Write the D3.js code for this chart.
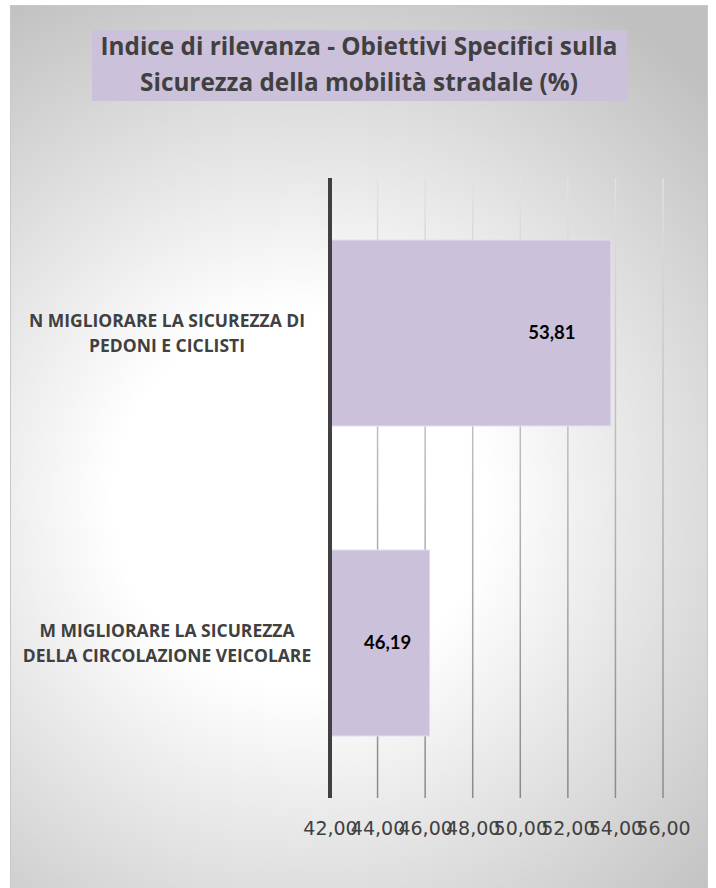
<!DOCTYPE html>
<html>
<head>
<meta charset="utf-8">
<script src="https://cdn.jsdelivr.net/npm/d3@7"></script>
<style>
  body { margin: 0; background: #fff; }
  svg { display: block; }
</style>
</head>
<body>
<div id="chart"></div>
<script>
// data
const titleLines = ['Indice di rilevanza - Obiettivi Specifici sulla', 'Sicurezza della mobilità stradale (%)'];
const categories = ['N', 'M'];
const categoryLabels = [
    ['N MIGLIORARE LA SICUREZZA DI', 'PEDONI E CICLISTI'],
    ['M MIGLIORARE LA SICUREZZA', 'DELLA CIRCOLAZIONE VEICOLARE']
];
const values = [53.81, 46.19];
const ticks = [42, 44, 46, 48, 50, 52, 54, 56];

const W = 716, H = 888;
const plot = {left: 330, right: 663, top: 178, bottom: 798};

const fmt = v => v.toFixed(2).replace('.', ',');

const svg = d3.select('#chart')
    .append('svg')
        .attr('width', W)
        .attr('height', H);

const defs = svg.append('defs');
const bg = defs.append('radialGradient')
    .attr('id', 'bg')
    .attr('gradientUnits', 'userSpaceOnUse')
    .attr('cx', 300).attr('cy', 500).attr('r', 580);
bg.append('stop').attr('offset', 0).attr('stop-color', '#ffffff');
bg.append('stop').attr('offset', 0.32).attr('stop-color', '#ffffff');
bg.append('stop').attr('offset', 1).attr('stop-color', '#c0c0c0');

const gridGrad = defs.append('linearGradient')
    .attr('id', 'grid')
    .attr('gradientUnits', 'userSpaceOnUse')
    .attr('x1', 0).attr('y1', plot.top).attr('x2', 0).attr('y2', plot.bottom);
gridGrad.append('stop').attr('offset', 0).attr('stop-color', '#e2e2e2');
gridGrad.append('stop').attr('offset', 1).attr('stop-color', '#8a8a8a');

// chart area
svg.append('rect')
    .attr('x', 10.5).attr('y', 5.5)
    .attr('width', 697).attr('height', 890)
    .attr('fill', 'url(#bg)')
    .attr('stroke', '#c8c8c8')
    .attr('stroke-width', 1);

// title
svg.append('rect')
    .attr('x', 92).attr('y', 30)
    .attr('width', 535).attr('height', 71)
    .attr('fill', '#ccc1da');

svg.selectAll('.title')
    .data(titleLines)
    .enter()
    .append('text')
        .attr('class', 'title')
        .attr('x', 359)
        .attr('y', (d, i) => 55 + i * 36)
        .attr('text-anchor', 'middle')
        .style('font-family', '"Open Sans", sans-serif')
        .style('font-weight', 'bold')
        .style('font-size', '24.3px')
        .style('fill', '#404040')
        .text(d => d);

const x = d3.scaleLinear()
    .domain([42, 56])
    .range([plot.left, plot.right]);

const y = d3.scaleBand()
    .domain(categories)
    .range([plot.top, plot.bottom])
    .paddingInner(0.4)
    .paddingOuter(0.2);

// gridlines
svg.selectAll('.grid')
    .data(ticks.slice(1))
    .enter()
    .append('rect')
        .attr('class', 'grid')
        .attr('x', d => x(d) - 0.75)
        .attr('y', plot.top)
        .attr('width', 1.5)
        .attr('height', plot.bottom - plot.top)
        .attr('fill', 'url(#grid)');

// bars
svg.selectAll('.bar')
    .data(values)
    .enter()
    .append('rect')
        .attr('class', 'bar')
        .attr('x', x(42))
        .attr('y', (d, i) => y(categories[i]))
        .attr('width', d => x(d) - x(42))
        .attr('height', y.bandwidth())
        .attr('fill', '#ccc1da')
        .attr('stroke', '#e4def0')
        .attr('stroke-width', 1);

// value labels
const labelShift = [59, 42];
svg.selectAll('.val')
    .data(values)
    .enter()
    .append('text')
        .attr('class', 'val')
        .attr('x', (d, i) => x(d) - labelShift[i])
        .attr('y', (d, i) => y(categories[i]) + y.bandwidth() / 2 + 6)
        .attr('text-anchor', 'middle')
        .style('font-family', 'Lato, sans-serif')
        .style('font-weight', 'bold')
        .style('font-size', '18.5px')
        .style('fill', '#000')
        .text(fmt);

// x axis (tick labels only)
const xAxis = svg.append('g')
    .attr('transform', `translate(0,${plot.bottom})`)
    .call(d3.axisBottom(x).tickValues(ticks).tickFormat(fmt).tickSize(0).tickPadding(24));
xAxis.select('.domain').remove();
xAxis.selectAll('text')
    .style('font-family', '"DejaVu Sans", sans-serif')
    .style('font-size', '19px')
    .style('fill', '#404040');

// category labels
const cat = svg.selectAll('.cat')
    .data(categoryLabels)
    .enter()
    .append('text')
        .attr('class', 'cat')
        .attr('text-anchor', 'middle')
        .style('font-family', '"Open Sans", sans-serif')
        .style('font-weight', 'bold')
        .style('font-size', '17.5px')
        .style('fill', '#404040');

cat.selectAll('tspan')
    .data((d, i) => d.map(t => ({t: t, i: i})))
    .enter()
    .append('tspan')
        .attr('x', 167)
        .attr('y', (d, j) => y(categories[d.i]) + y.bandwidth() / 2 - 6 + j * 25)
        .text(d => d.t);

// vertical axis line
svg.append('line')
    .attr('x1', plot.left).attr('x2', plot.left)
    .attr('y1', plot.top).attr('y2', plot.bottom)
    .attr('stroke', '#404040')
    .attr('stroke-width', 4);
</script>
</body>
</html>
